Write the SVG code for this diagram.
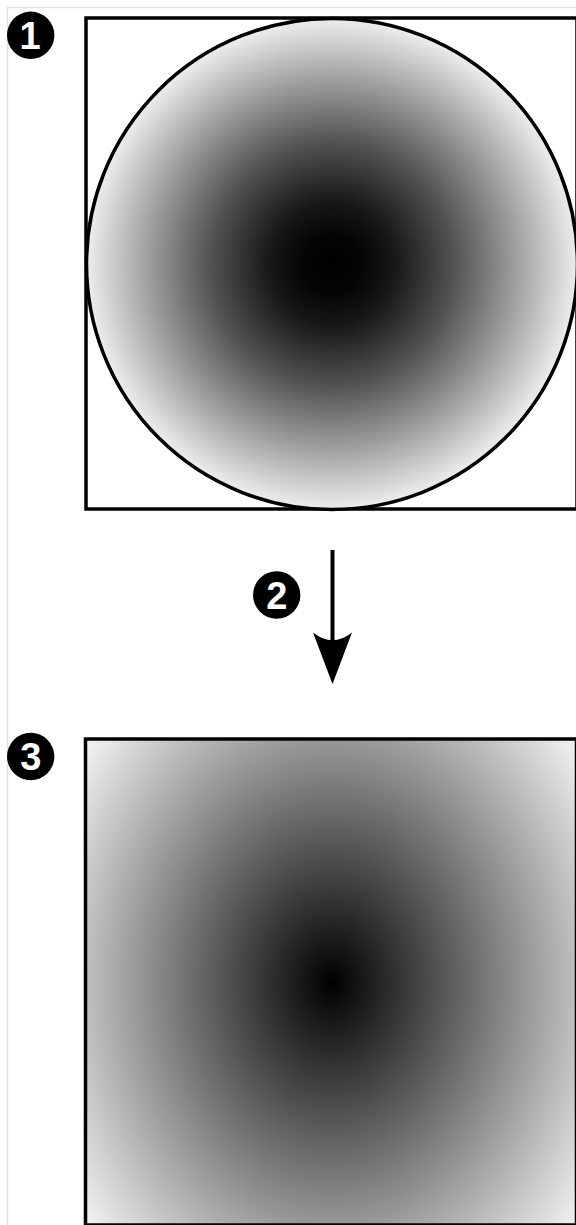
<svg xmlns="http://www.w3.org/2000/svg" width="576" height="1225" viewBox="0 0 576 1225">
  <style>
    .frame { stroke: #e2e2e2; stroke-width: 1.5; fill: none; }
    .box { stroke: #000; stroke-width: 3.5; }
    .badge circle { fill: #000; }
    .badge text { fill: #fff; font-family: "Liberation Sans", Arial, sans-serif; font-weight: bold; font-size: 38px; text-anchor: middle; }
  </style>
  <defs>
    <radialGradient id="sphere" gradientUnits="userSpaceOnUse" cx="332" cy="264" r="246">
      <stop offset="0" stop-color="#000"/>
      <stop offset="0.12" stop-color="#050505"/>
      <stop offset="0.25" stop-color="#171717"/>
      <stop offset="0.5" stop-color="#545454"/>
      <stop offset="0.75" stop-color="#9f9f9f"/>
      <stop offset="1" stop-color="#eeeeee"/>
    </radialGradient>
    <radialGradient id="flat" gradientUnits="userSpaceOnUse" cx="332" cy="983" r="327" gradientTransform="translate(332,983) scale(1,1.25) translate(-332,-983)">
      <stop offset="0" stop-color="#000"/>
      <stop offset="1" stop-color="#fff"/>
    </radialGradient>
  </defs>
  <rect width="576" height="1225" fill="#fff"/>
  <path class="frame" d="M7.5,1225 V7.5 H576"/>

  <g id="node-sphere">
    <rect class="box" x="86" y="18" width="491" height="491" fill="#fff"/>
    <circle cx="332" cy="264" r="245.5" fill="url(#sphere)" stroke="#000" stroke-width="3.5"/>
  </g>

  <g id="node-flat">
    <rect class="box" x="85.5" y="739" width="491" height="486" fill="url(#flat)"/>
  </g>

  <g id="connectors">
    <line x1="332.5" y1="550" x2="332.5" y2="642" stroke="#000" stroke-width="4"/>
    <path d="M313,632.5 Q332.5,648 352,632.5 L332.5,684 Z" fill="#000"/>
  </g>

  <g id="badge-1" class="badge">
    <circle cx="30.7" cy="35.3" r="23.7"/>
    <text x="30" y="48.5">1</text>
  </g>
  <g id="badge-2" class="badge">
    <circle cx="276.7" cy="595" r="23.7"/>
    <text x="276.7" y="608.5">2</text>
  </g>
  <g id="badge-3" class="badge">
    <circle cx="30.7" cy="756.5" r="23.7"/>
    <text x="30.7" y="770">3</text>
  </g>
</svg>
